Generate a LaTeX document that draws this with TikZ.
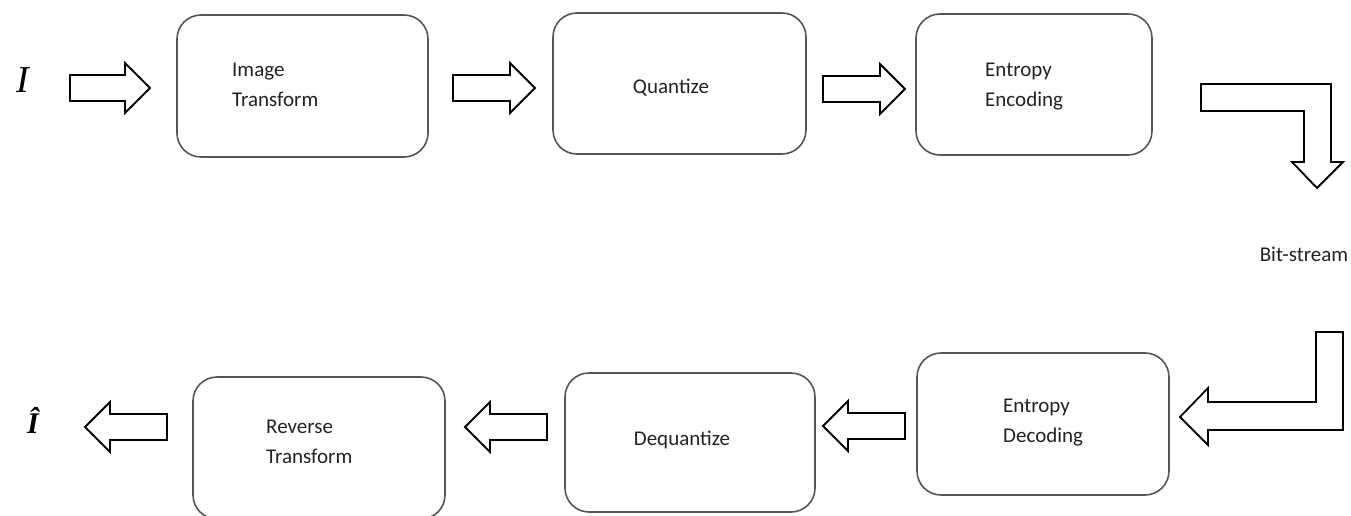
\documentclass[tikz,border=0pt]{standalone}
\usepackage{fontspec}
\setmainfont{Carlito}
\newfontfamily\symbolserif{Liberation Serif}

\definecolor{boxgray}{HTML}{555555}
\definecolor{textgray}{HTML}{222222}

% block arrows: left x, tip x, centre y  /  tip x, right x, centre y
\newcommand{\rightblock}[3]{%
  \draw[block_arrow] (#1,#3-13) -- (#2-25,#3-13) -- (#2-25,#3-25) -- (#2,#3)
    -- (#2-25,#3+25) -- (#2-25,#3+13) -- (#1,#3+13) -- cycle;}
\newcommand{\leftblock}[3]{%
  \draw[block_arrow] (#1,#3) -- (#1+25,#3-25) -- (#1+25,#3-13) -- (#2,#3-13)
    -- (#2,#3+13) -- (#1+25,#3+13) -- (#1+25,#3+25) -- cycle;}

\begin{document}
\begin{tikzpicture}
  [x=1pt,y=-1pt,
   box_style/.style={draw=boxgray,line width=1.6pt,rounded corners=24pt,inner sep=0pt},
   text_style/.style={text=textgray,font=\fontsize{21}{30}\selectfont,align=left,inner sep=0pt},
   block_arrow/.style={draw=black,line width=1.8pt,line join=miter}]
  \useasboundingbox (0,0) rectangle (1351,516);

  % coding chain
  \node[box_style,minimum width=251pt,minimum height=142pt] (transform) at (302.5,86) {};
  \node[box_style,minimum width=253pt,minimum height=141pt] (quantize) at (679.5,83.5) {};
  \node[box_style,minimum width=236pt,minimum height=141pt] (encoding) at (1034,84.5) {};
  \node[text_style,anchor=west] (transform_txt) at (232,85) {Image\\Transform};
  \node[text_style] (quantize_txt) at (671,88) {Quantize};
  \node[text_style,anchor=west] (encoding_txt) at (985,87) {Entropy\\Encoding};

  % decoding chain
  \node[box_style,minimum width=252pt,minimum height=142pt] (reverse) at (319,448) {};
  \node[box_style,minimum width=250pt,minimum height=139pt] (dequantize) at (690,442.5) {};
  \node[box_style,minimum width=252pt,minimum height=142pt] (decoding) at (1043,424) {};
  \node[text_style,anchor=west] (reverse_txt) at (266,442) {Reverse\\Transform};
  \node[text_style] (dequantize_txt) at (682,440) {Dequantize};
  \node[text_style,anchor=west] (decoding_txt) at (1003,423) {Entropy\\Decoding};

  \node[text_style] (bitstream) at (1304,254) {Bit-stream};
  \node[inner sep=0pt] (input) at (23,80.5) {\symbolserif\itshape\fontsize{38}{38}\selectfont I};
  \node[inner sep=0pt] (output) at (33,420) {\symbolserif\bfseries\itshape\fontsize{30}{30}\selectfont Î};

  \rightblock{70}{150}{88}
  \rightblock{453}{535}{88}
  \rightblock{823}{905}{89}
  \leftblock{85}{167}{427}
  \leftblock{465}{547}{427}
  \leftblock{823}{905}{426}

  % bent arrows round the bit-stream
  \draw[block_arrow] (1201,84) -- (1331,84) -- (1331,162) -- (1343,162) -- (1317,188)
    -- (1292,162) -- (1304,162) -- (1304,111) -- (1201,111) -- cycle;
  \draw[block_arrow] (1316,332) -- (1343,332) -- (1343,430) -- (1208,430) -- (1208,445)
    -- (1180,417) -- (1208,388) -- (1208,402) -- (1316,402) -- cycle;
\end{tikzpicture}
\end{document}
